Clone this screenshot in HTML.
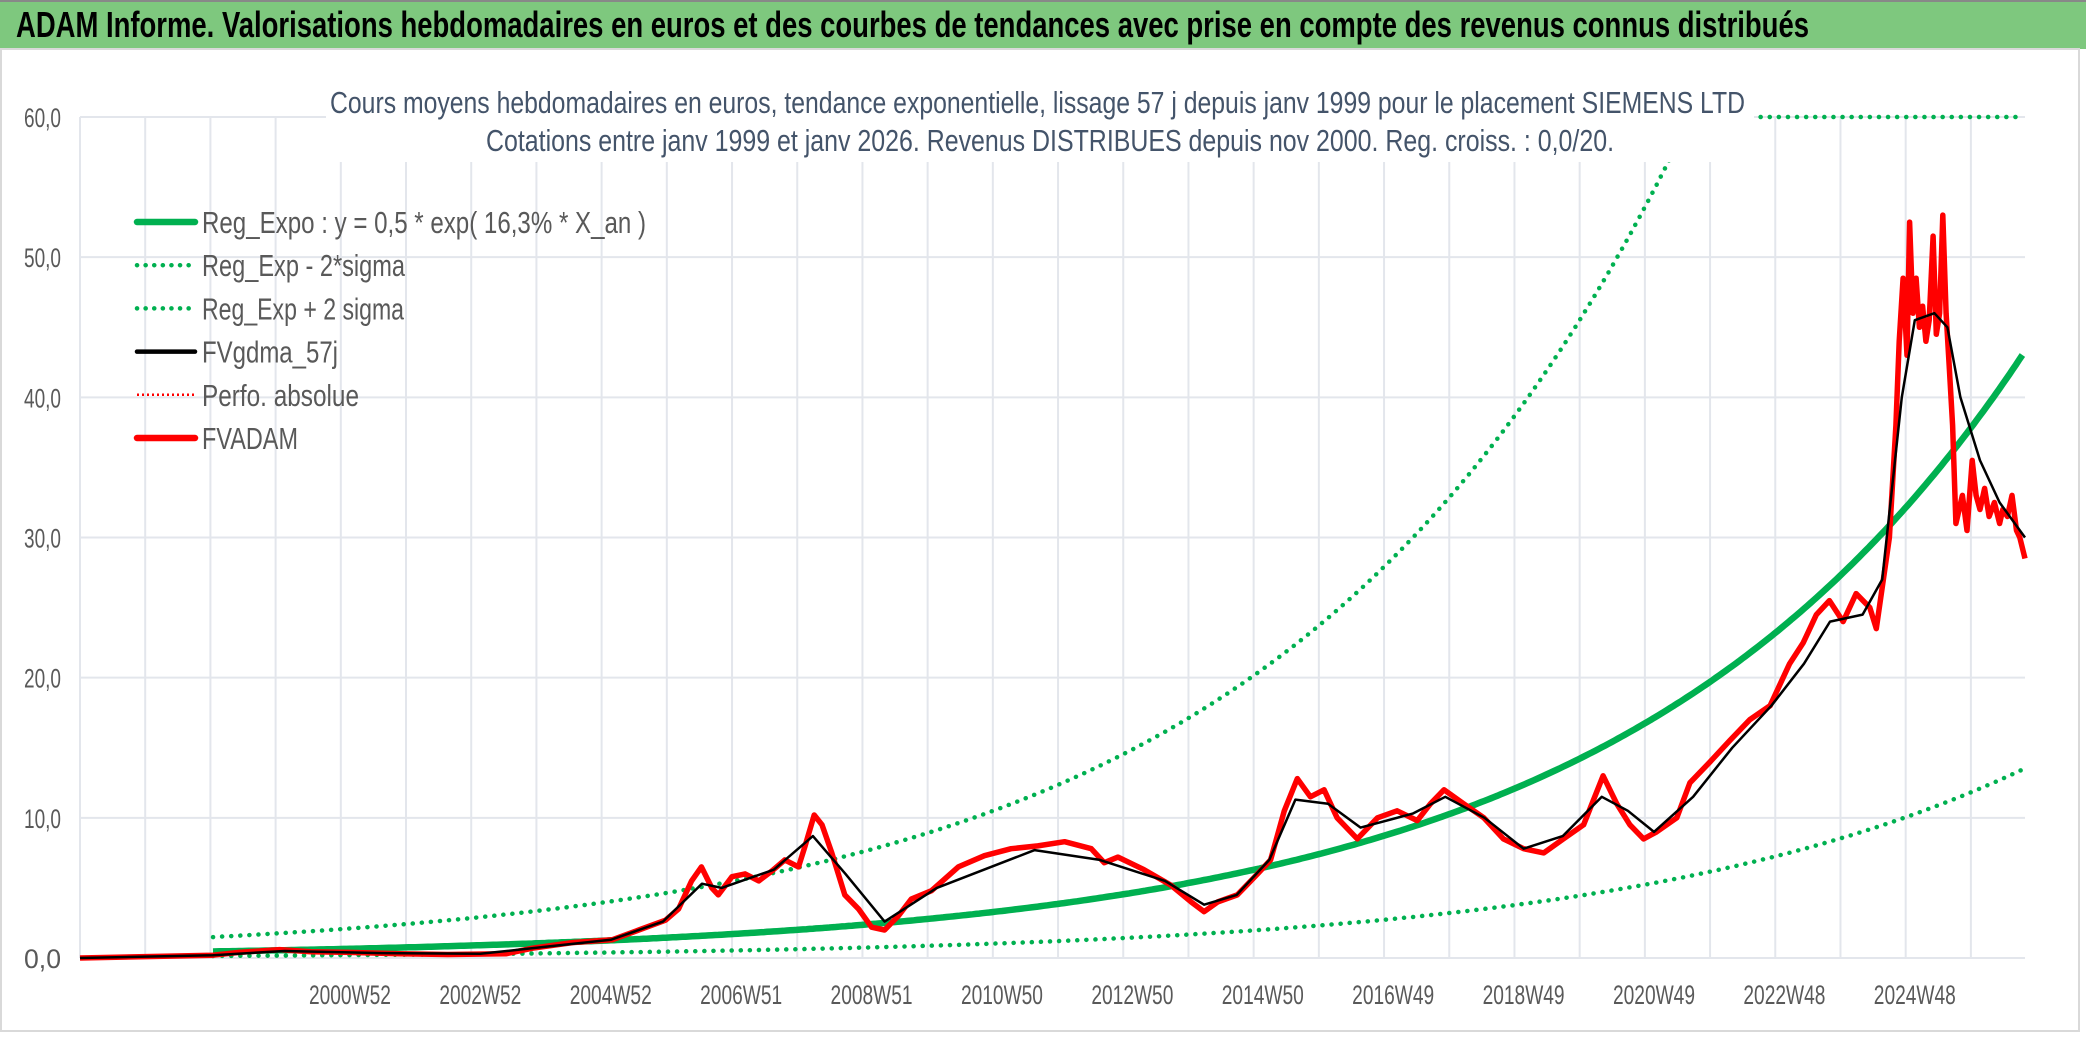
<!DOCTYPE html>
<html><head><meta charset="utf-8">
<style>
html,body{margin:0;padding:0;background:#fff;}
#wrap{position:relative;width:2086px;height:1038px;overflow:hidden;background:#fff;font-family:"Liberation Sans Narrow","Liberation Sans",sans-serif;}
#titlebar{position:absolute;left:0;top:0;width:2086px;height:49px;background:#7EC87E;border-top:2px solid #888;box-sizing:border-box;}
svg{position:absolute;left:0;top:0;}
</style></head>
<body>
<div id="wrap">
<div id="titlebar"></div>
<svg id="chart" width="2086" height="1038">
<text x="16" y="37" font-size="36" font-weight="bold" fill="#000" font-family="Liberation Sans Narrow, Liberation Sans, sans-serif" textLength="1793" lengthAdjust="spacingAndGlyphs">ADAM Informe. Valorisations hebdomadaires en euros et des courbes de tendances avec prise en compte des revenus connus distribués</text>
</svg>
</div>
<script>
// ---- data ----
const xLabels = ["2000W52","2002W52","2004W52","2006W51","2008W51","2010W50","2012W50","2014W50","2016W49","2018W49","2020W49","2022W48","2024W48"];
const xLabelYears = [2001,2003,2005,2007,2009,2011,2013,2015,2017,2019,2021,2023,2025];
const yTicks = [0,10,20,30,40,50,60];
const yTickLabels = ["0,0","10,0","20,0","30,0","40,0","50,0","60,0"];
const regA = 0.5, regB = 0.163, regOrigin = 1999.32, sigmaFactor = 3.2;
const adamYears = [1996.86,1998.90,1999.3,1999.92,2000.4,2001.0,2001.76,2002.5,2003.39,2003.80,2004.41,2005.02,2005.43,2005.84,2006.04,2006.24,2006.39,2006.55,2006.65,2006.86,2007.06,2007.27,2007.47,2007.67,2007.88,2007.98,2008.12,2008.24,2008.39,2008.59,2008.80,2009.00,2009.20,2009.41,2009.61,2009.92,2010.33,2010.73,2011.14,2011.55,2011.96,2012.37,2012.57,2012.78,2013.18,2013.59,2013.90,2014.10,2014.31,2014.61,2014.92,2015.12,2015.33,2015.53,2015.73,2015.94,2016.14,2016.45,2016.76,2017.06,2017.37,2017.57,2017.78,2018.08,2018.39,2018.69,2019.00,2019.31,2019.61,2019.92,2020.22,2020.43,2020.63,2020.84,2021.04,2021.35,2021.55,2021.86,2022.16,2022.47,2022.78,2023.08,2023.29,2023.49,2023.69,2023.90,2024.10,2024.31,2024.41,2024.61,2024.71,2024.76,2024.82,2024.88,2024.92,2024.97,2025.02,2025.07,2025.12,2025.17,2025.22,2025.28,2025.33,2025.38,2025.43,2025.48,2025.53,2025.58,2025.63,2025.73,2025.80,2025.88,2025.94,2026.00,2026.07,2026.14,2026.22,2026.30,2026.35,2026.42,2026.49,2026.56,2026.61,2026.69];
const adamValues = [0,0.2,0.4,0.6,0.45,0.4,0.3,0.25,0.3,0.7,1.1,1.3,2.0,2.7,3.5,5.5,6.5,5.0,4.5,5.8,6.0,5.5,6.2,7.0,6.5,8.0,10.2,9.5,7.5,4.5,3.5,2.2,2.0,3.0,4.2,4.8,6.5,7.3,7.8,8.0,8.3,7.8,6.8,7.2,6.3,5.2,4.0,3.3,4.0,4.5,6.0,7.0,10.5,12.8,11.5,12.0,10.0,8.5,10.0,10.5,9.8,11.0,12.0,11.0,10.0,8.5,7.8,7.5,8.5,9.5,13.0,11.0,9.5,8.5,9.0,10.0,12.5,14.0,15.5,17.0,18.0,21.0,22.5,24.5,25.5,24.0,26.0,25.0,23.5,30.0,38.0,44.0,48.5,43.0,52.5,46.0,48.5,45.0,46.5,44.0,45.5,51.5,44.5,46.0,53.0,46.0,42.0,38.0,31.0,33.0,30.5,35.5,33.0,32.0,33.5,31.5,32.5,31.0,32.0,31.5,33.0,30.5,30.0,28.5];
const smoothYears = [1996.86,1998.9,2000.0,2001.5,2003.0,2004.0,2005.0,2005.8,2006.4,2006.7,2007.5,2008.1,2008.6,2009.2,2010.0,2011.5,2012.5,2013.5,2014.1,2014.6,2015.1,2015.5,2016.0,2016.5,2017.3,2017.8,2018.4,2019.0,2019.6,2020.2,2020.6,2021.0,2021.6,2022.2,2022.8,2023.3,2023.7,2024.2,2024.5,2024.8,2025.0,2025.3,2025.5,2025.7,2026.0,2026.3,2026.69];
const smoothValues = [0,0.2,0.5,0.35,0.3,0.8,1.3,2.6,5.3,5.0,6.3,8.7,6.0,2.6,5.0,7.7,7.0,5.5,3.8,4.5,7.0,11.3,11.0,9.3,10.3,11.5,10.0,7.8,8.7,11.5,10.5,9.0,11.5,15.0,18.0,21.0,24.0,24.5,27.0,40.0,45.5,46.0,45.0,40.0,35.5,32.5,30.0];

// ---- scales ----
const X0=80, X1=2025, Y0=958, Y60=117;
const xMin=1996.86, xMax=2026.69, yMax=60;
const xs = y => X0 + (y - xMin) / (xMax - xMin) * (X1 - X0);
const ys = v => Y0 - v / yMax * (Y0 - Y60);
const NS="http://www.w3.org/2000/svg";
const svg=document.getElementById('chart');
const FF='"Liberation Sans Narrow","Liberation Sans",sans-serif';
function mk(tag, attrs){const e=document.createElementNS(NS,tag);for(const k in attrs)e.setAttribute(k,attrs[k]);svg.appendChild(e);return e;}

let fr=mk('rect',{x:1,y:49,width:2078,height:982,fill:'none',stroke:'#d9d9d9','stroke-width':2});



for(let k=0;k<=29;k++){
  const gx=xs(xMin+k);
  const g=mk('line',{x1:gx,x2:gx,y1:Y60,y2:Y0,stroke:'#e3e6ec','stroke-width':2});
  
  
}
yTicks.forEach((t,i)=>{
  const g=mk('line',{x1:X0,x2:X1,y1:ys(t),y2:ys(t),stroke:'#e3e6ec','stroke-width':2});
  
  
  const l=mk('text',{x:24,y:ys(t)+10,'font-size':27,fill:'#595959','font-family':FF,textLength:37,lengthAdjust:'spacingAndGlyphs'});
  l.textContent=yTickLabels[i];
  
  
});
xLabels.forEach((s,i)=>{
  const cx=xs(xLabelYears[i]);
  const l=mk('text',{x:cx-41,y:1004,'font-size':27,fill:'#595959','font-family':FF,textLength:82,lengthAdjust:'spacingAndGlyphs'});
  l.textContent=s;
  
  
});

function pathFrom(yrs, vals){return yrs.map((y,i)=>(i?'L':'M')+xs(y).toFixed(1)+','+ys(Math.min(vals[i],yMax)).toFixed(1)).join(' ');}
const regYears=[], regVals=[], loVals=[], hiVals=[];
for(let y=1998.9;y<=xMax+0.001;y+=0.05){const v=regA*Math.exp(regB*(y-regOrigin));regYears.push(y);regVals.push(v);loVals.push(v/sigmaFactor);hiVals.push(v*sigmaFactor);}
let p=mk('path',{d:pathFrom(regYears,hiVals),fill:'none',stroke:'#00B050','stroke-width':4.5,'stroke-dasharray':'0.1 9','stroke-linecap':'round'});


p=mk('path',{d:pathFrom(regYears,loVals),fill:'none',stroke:'#00B050','stroke-width':4.5,'stroke-dasharray':'0.1 9','stroke-linecap':'round'});


p=mk('path',{d:pathFrom(regYears,regVals),fill:'none',stroke:'#00B050','stroke-width':6.5});


p=mk('path',{d:pathFrom(adamYears,adamValues),fill:'none',stroke:'#FF0000','stroke-width':5.5,'stroke-linejoin':'round'});


p=mk('path',{d:pathFrom(smoothYears,smoothValues),fill:'none',stroke:'#000','stroke-width':2.5,'stroke-linejoin':'round'});



let tb=mk('rect',{x:326,y:70,width:1428,height:92,fill:'#fff'});


[["Cours moyens hebdomadaires en euros, tendance exponentielle, lissage 57 j depuis janv 1999 pour le placement SIEMENS LTD",113,330,1415],["Cotations entre janv 1999 et janv 2026. Revenus DISTRIBUES depuis nov 2000. Reg. croiss. : 0,0/20.",151,486,1128]].forEach(([s,y,x,w],i)=>{
  const t=mk('text',{x:x,y:y,'font-size':31,fill:'#44546A','font-family':FF,textLength:w,lengthAdjust:'spacingAndGlyphs'});
  t.textContent=s;
  
  
});

const legNames=["Reg_Expo : y = 0,5 * exp( 16,3% *  X_an )","Reg_Exp - 2*sigma","Reg_Exp + 2 sigma","FVgdma_57j","Perfo. absolue","FVADAM"];
const legLens=[444,203,202,136,157,96];
const legColors=['#00B050','#00B050','#00B050','#000','#FF0000','#FF0000'];
const legWidths=[6.5,4.5,4.5,4.5,2.5,6.5];
const legDash=['','0.1 8.5','0.1 8.5','','2 3',''];
legNames.forEach((s,i)=>{
  const y=222+i*43.2;
  const l=mk('line',{x1:137,x2:195,y1:y,y2:y,stroke:legColors[i],'stroke-width':legWidths[i],'stroke-linecap':i==4?'butt':'round'});
  if(legDash[i]) l.setAttribute('stroke-dasharray',legDash[i]);
  
  
  const t=mk('text',{x:202,y:y+11,'font-size':31,fill:'#595959','font-family':FF,textLength:legLens[i],lengthAdjust:'spacingAndGlyphs'});
  t.textContent=s;
  
  
});
</script>
</body></html>
